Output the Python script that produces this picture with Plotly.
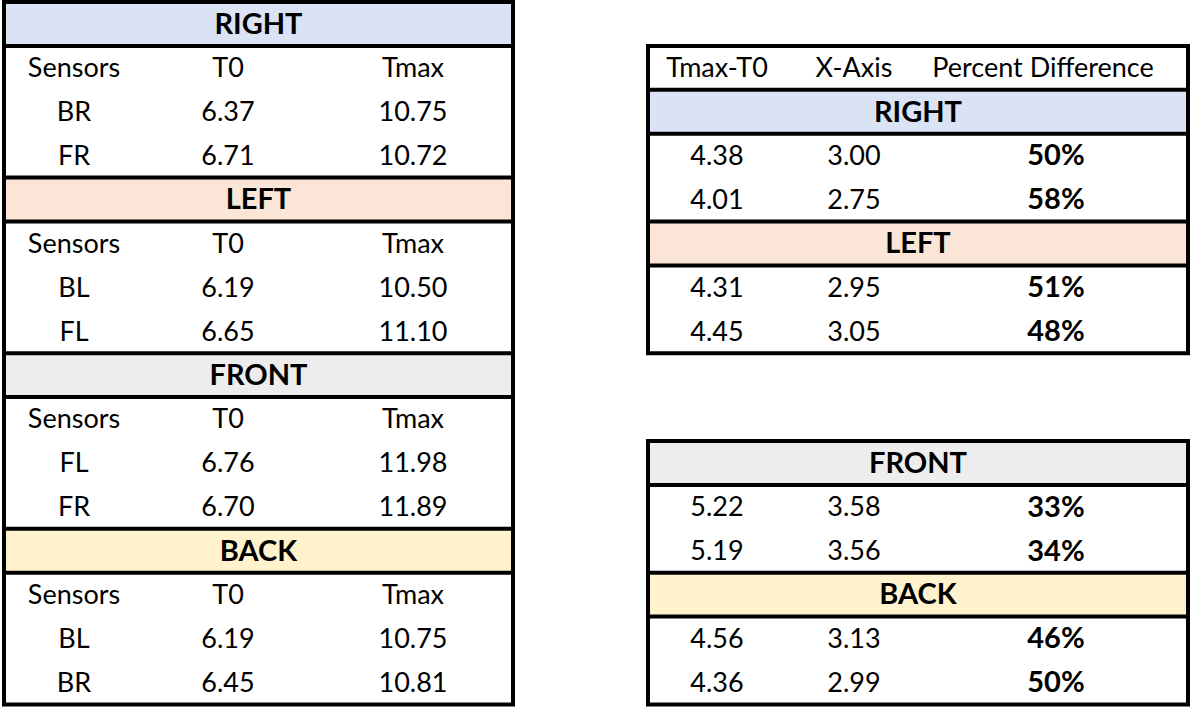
import plotly.graph_objects as go

# ---------------- data ----------------
SECTIONS = ["RIGHT", "LEFT", "FRONT", "BACK"]
SENSORS = [["BR", "FR"], ["BL", "FL"], ["FL", "FR"], ["BL", "BR"]]
T0 = [[6.37, 6.71], [6.19, 6.65], [6.76, 6.70], [6.19, 6.45]]
TMAX = [[10.75, 10.72], [10.50, 11.10], [11.98, 11.89], [10.75, 10.81]]
TMAX_MINUS_T0 = [[4.38, 4.01], [4.31, 4.45], [5.22, 5.19], [4.56, 4.36]]
X_AXIS = [[3.00, 2.75], [2.95, 3.05], [3.58, 3.56], [3.13, 2.99]]
PCT_DIFF = [[50, 58], [51, 48], [33, 34], [46, 50]]
LEFT_COLS = ["Sensors", "T0", "Tmax"]
RIGHT_COLS = ["Tmax-T0", "X-Axis", "Percent Difference"]

# ---------------- style / layout ----------------
W, H = 1191, 708
FONT = "Lato"
FS = 27
FS_BOLD = 29
BAND_COLORS = ["#DAE3F3", "#FBE5D6", "#EDEDED", "#FFF2CC"]
ROW_H = 43.9
TOP = 2.0
LW = 4
TEXT_DY = 2.5

L_X0, L_X1 = 4, 513
L_COLX = [74, 228, 413]
R_X0, R_X1 = 648, 1188
R_COLX_HDR = [717, 854, 1043]
R_COLX_VAL = [717, 854, 1056]


def row_top(i):
    return TOP + ROW_H * i


def row_mid(i):
    return TOP + ROW_H * (i + 0.5) + TEXT_DY


fig = go.Figure()
shapes = []

def text_trace(xs, ys, texts, bold=False):
    fig.add_trace(go.Scatter(
        x=xs, y=ys, mode="text",
        text=[f"<b>{t}</b>" if bold else t for t in texts],
        textposition="middle center",
        textfont=dict(family=FONT, size=FS_BOLD if bold else FS, color="#000000"),
        hoverinfo="skip", showlegend=False,
    ))

def band(x0, x1, r, color):
    shapes.append(dict(type="rect", xref="x", yref="y", x0=x0, x1=x1,
                       y0=row_top(r), y1=row_top(r + 1), fillcolor=color,
                       line=dict(width=0), layer="below"))

def hline(x0, x1, y):
    shapes.append(dict(type="line", xref="x", yref="y", x0=x0, x1=x1,
                       y0=y, y1=y, line=dict(color="#000000", width=LW)))

def border(x0, x1, r0, r1):
    shapes.append(dict(type="rect", xref="x", yref="y", x0=x0, x1=x1,
                       y0=row_top(r0), y1=row_top(r1), fillcolor="rgba(0,0,0,0)",
                       line=dict(color="#000000", width=LW)))

# ---------------- left table ----------------
for s, name in enumerate(SECTIONS):
    r = 4 * s
    band(L_X0, L_X1, r, BAND_COLORS[s])
    hline(L_X0, L_X1, row_top(r))
    hline(L_X0, L_X1, row_top(r + 1))
    text_trace([(L_X0 + L_X1) / 2], [row_mid(r)], [name], bold=True)
    text_trace(L_COLX, [row_mid(r + 1)] * 3, LEFT_COLS)
    for k in range(2):
        rr = r + 2 + k
        text_trace(L_COLX, [row_mid(rr)] * 3,
                   [SENSORS[s][k], f"{T0[s][k]:.2f}", f"{TMAX[s][k]:.2f}"])
border(L_X0, L_X1, 0, 16)

# ---------------- right tables ----------------
RIGHT_LAYOUT = [(0, 2), (1, 5), (2, 10), (3, 13)]  # (section, band row)
text_trace(R_COLX_HDR, [row_mid(1)] * 3, RIGHT_COLS)
for s, r in RIGHT_LAYOUT:
    band(R_X0, R_X1, r, BAND_COLORS[s])
    hline(R_X0, R_X1, row_top(r))
    hline(R_X0, R_X1, row_top(r + 1))
    text_trace([(R_X0 + R_X1) / 2], [row_mid(r)], [SECTIONS[s]], bold=True)
    for k in range(2):
        rr = r + 1 + k
        text_trace(R_COLX_VAL[:2], [row_mid(rr)] * 2,
                   [f"{TMAX_MINUS_T0[s][k]:.2f}", f"{X_AXIS[s][k]:.2f}"])
        text_trace([R_COLX_VAL[2]], [row_mid(rr)], [f"{PCT_DIFF[s][k]}%"], bold=True)
border(R_X0, R_X1, 1, 8)
border(R_X0, R_X1, 10, 16)

fig.update_layout(
    width=W, height=H,
    margin=dict(l=0, r=0, t=0, b=0),
    paper_bgcolor="#FFFFFF", plot_bgcolor="#FFFFFF",
    shapes=shapes,
    xaxis=dict(range=[0, W], visible=False, fixedrange=True),
    yaxis=dict(range=[H, 0], visible=False, fixedrange=True),
    showlegend=False,
)
fig.write_html(
    "out.html",
    config={"displayModeBar": False},
    post_script="document.body.style.margin='0';document.body.style.overflow='hidden';",
)
